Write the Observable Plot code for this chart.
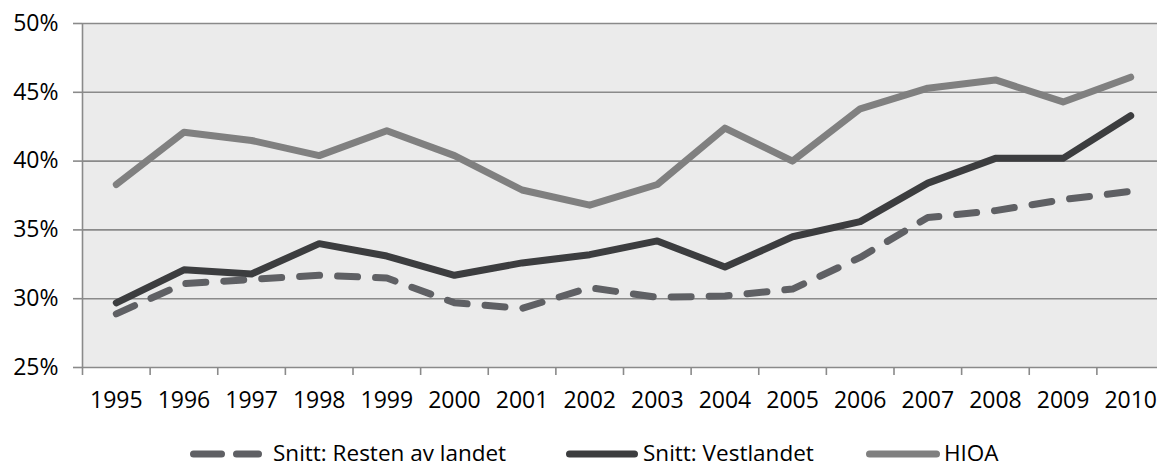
<!DOCTYPE html>
<html>
<head>
<meta charset="utf-8">
<script src="https://cdn.jsdelivr.net/npm/d3@7"></script>
<script src="https://cdn.jsdelivr.net/npm/@observablehq/plot@0.6"></script>
<style>
  html, body { margin: 0; padding: 0; background: #ffffff; }
  #wrap { position: relative; width: 1157px; height: 468px; overflow: hidden; font-family: "Open Sans", sans-serif; }
  #legend { display: block; }
</style>
</head>
<body>
<div id="wrap"></div>
<script>
// ---- data ----
const years = [1995, 1996, 1997, 1998, 1999, 2000, 2001, 2002, 2003, 2004, 2005, 2006, 2007, 2008, 2009, 2010];
const resten = [28.9, 31.1, 31.4, 31.7, 31.5, 29.7, 29.3, 30.8, 30.1, 30.2, 30.7, 33.0, 35.9, 36.4, 37.2, 37.8];
const vestlandet = [29.7, 32.1, 31.8, 34.0, 33.1, 31.7, 32.6, 33.2, 34.2, 32.3, 34.5, 35.6, 38.4, 40.2, 40.2, 43.3];
const hioa = [38.3, 42.1, 41.5, 40.4, 42.2, 40.4, 37.9, 36.8, 38.3, 42.4, 40.0, 43.8, 45.3, 45.9, 44.3, 46.1];
const seriesNames = ["Snitt: Resten av landet", "Snitt: Vestlandet", "HIOA"];
const seriesColors = ["#5f6064", "#3c3d3f", "#808080"];
const yTicks = [25, 30, 35, 40, 45, 50];

// ---- build tables ----
const rows = (vals, name) => years.map((yr, i) => ({year: yr, value: vals[i], series: name}));
const restenRows = rows(resten, seriesNames[0]);
const vestRows = rows(vestlandet, seriesNames[1]);
const hioaRows = rows(hioa, seriesNames[2]);
const boundaries = years.map(y => y - 0.5).concat([years[years.length - 1] + 0.5]);

const gridColor = "#8a8a8a";
const font = "Open Sans";

const chart = Plot.plot({
  width: 1157,
  height: 420,
  marginLeft: 82,
  marginRight: 0,
  marginTop: 23,
  marginBottom: 53,
  style: {fontFamily: font, fontSize: "23px", color: "#000", background: "transparent", overflow: "visible"},
  x: {type: "linear", domain: [boundaries[0], boundaries[boundaries.length - 1]], range: [82, 1164]},
  y: {domain: [yTicks[0], yTicks[yTicks.length - 1]]},
  marks: [
    Plot.frame({fill: "#ebebeb", stroke: "none"}),
    Plot.ruleY(yTicks, {stroke: gridColor, strokeWidth: 1.6}),
    Plot.ruleX([boundaries[0]], {stroke: gridColor, strokeWidth: 1.6}),
    Plot.axisY(yTicks, {tickSize: 9, tickPadding: 15, tickFormat: d => d + "%", stroke: gridColor, strokeWidth: 1.6, fill: "#000", fontSize: 23, label: null}),
    Plot.axisX(boundaries, {tickSize: 8, tickFormat: () => "", stroke: gridColor, strokeWidth: 1.6, label: null}),
    Plot.axisX(years, {tickSize: 0, tickPadding: 24, tickFormat: d => String(d), fill: "#000", fontSize: 23, label: null}),
    Plot.line(hioaRows, {x: "year", y: "value", stroke: seriesColors[2], strokeWidth: 7, strokeLinecap: "round", strokeLinejoin: "round"}),
    Plot.line(vestRows, {x: "year", y: "value", stroke: seriesColors[1], strokeWidth: 7, strokeLinecap: "round", strokeLinejoin: "round"}),
    Plot.line(restenRows, {x: "year", y: "value", stroke: seriesColors[0], strokeWidth: 7, strokeLinecap: "round", strokeLinejoin: "round", strokeDasharray: "20,18"})
  ]
});
chart.style.display = "block";
document.getElementById("wrap").appendChild(chart);

// ---- legend (below the plot) ----
const ns = "http://www.w3.org/2000/svg";
const leg = document.createElementNS(ns, "svg");
leg.setAttribute("id", "legend");
leg.setAttribute("width", 1157);
leg.setAttribute("height", 48);
leg.style.fontFamily = font;
const cy = 34;
const items = [
  {segs: [[190, 225], [233, 262]], tx: 273},
  {segs: [[566, 638]], tx: 643},
  {segs: [[866, 940]], tx: 944}
];
items.forEach((it, i) => {
  it.segs.forEach(([a, b]) => {
    const l = document.createElementNS(ns, "line");
    l.setAttribute("x1", a + 3.5); l.setAttribute("x2", b - 3.5);
    l.setAttribute("y1", cy); l.setAttribute("y2", cy);
    l.setAttribute("stroke", seriesColors[i]);
    l.setAttribute("stroke-width", 7);
    l.setAttribute("stroke-linecap", "round");
    leg.appendChild(l);
  });
  const t = document.createElementNS(ns, "text");
  t.setAttribute("x", it.tx);
  t.setAttribute("y", cy);
  t.setAttribute("dy", "0.33em");
  t.setAttribute("font-size", 22.5);
  t.setAttribute("fill", "#000");
  t.textContent = seriesNames[i];
  leg.appendChild(t);
});
document.getElementById("wrap").appendChild(leg);
</script>
</body>
</html>
